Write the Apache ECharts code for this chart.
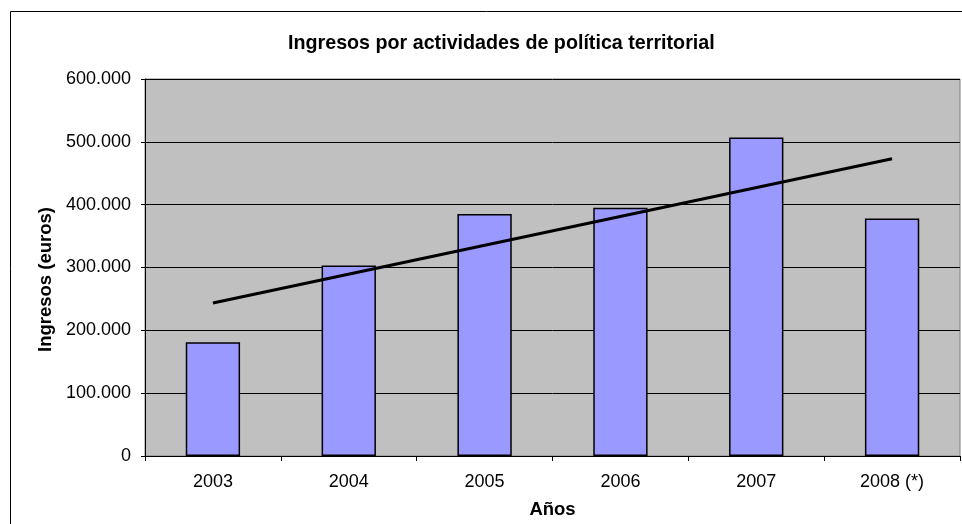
<!DOCTYPE html>
<html>
<head>
<meta charset="utf-8">
<script src="https://cdn.jsdelivr.net/npm/echarts@6/dist/echarts.min.js"></script>
<style>
  html, body { margin: 0; padding: 0; background: #fff; }
  #chart { width: 962px; height: 524px; }
</style>
</head>
<body>
<div id="chart"></div>
<script>
// data
var years = ['2003', '2004', '2005', '2006', '2007', '2008 (*)'];
var ingresos = [181000, 303000, 385000, 395000, 507000, 378000];
// linear trend line, value at first and last year
var trendIdx = [0, 5];
var trendValues = [243500, 473000];

var chartDom = document.getElementById('chart');
var myChart = echarts.init(chartDom);
var font = '"Liberation Sans", Arial, sans-serif';

var trendData = trendIdx.map(function (i, k) { return [i, trendValues[k]]; });

var option = {
    backgroundColor: '#fff',
    animation: false,
    textStyle: { fontFamily: font },
    title: {
        text: 'Ingresos por actividades de política territorial',
        left: 283,
        top: 29,
        textStyle: { fontSize: 19.7, fontWeight: 'bold', color: '#000', fontFamily: font }
    },
    graphic: [{
        type: 'rect',
        shape: { x: 10.5, y: 11.5, width: 980, height: 540 },
        style: { fill: 'none', stroke: '#000', lineWidth: 1 },
        silent: true
    }],
    grid: {
        left: 145,
        right: 2,
        top: 79,
        bottom: 68,
        show: true,
        backgroundColor: '#C0C0C0',
        borderColor: '#808080',
        borderWidth: 1
    },
    xAxis: {
        type: 'category',
        data: years,
        name: 'Años',
        nameLocation: 'middle',
        nameGap: 44,
        nameTextStyle: { fontSize: 18.5, fontWeight: 'bold', color: '#000', fontFamily: font },
        axisLine: { lineStyle: { color: '#000', width: 1 } },
        axisTick: { show: true, length: 5, lineStyle: { color: '#000' } },
        axisLabel: { fontSize: 18, color: '#000', margin: 17, fontFamily: font },
        splitLine: { show: false }
    },
    yAxis: {
        type: 'value',
        min: 0,
        max: 600000,
        interval: 100000,
        name: 'Ingresos (euros)',
        nameLocation: 'middle',
        nameGap: 88,
        nameTextStyle: {
            fontSize: 18.5, fontWeight: 'bold', color: '#000', fontFamily: font,
            padding: [0, 24, 0, 0]
        },
        axisLine: { show: true, lineStyle: { color: '#000', width: 1 } },
        axisTick: { show: true, length: 4, lineStyle: { color: '#000' } },
        axisLabel: {
            fontSize: 18,
            color: '#000',
            margin: 14,
            fontFamily: font,
            formatter: function (v) {
                return String(v).replace(/\B(?=(\d{3})+(?!\d))/g, '.');
            }
        },
        splitLine: { show: true, lineStyle: { color: '#000', width: 1 } }
    },
    series: [
        {
            name: 'Ingresos',
            type: 'bar',
            barWidth: '40%',
            data: ingresos,
            itemStyle: { color: '#9999FF', borderColor: '#000', borderWidth: 1.5 }
        },
        {
            name: 'Tendencia',
            type: 'line',
            data: trendData,
            symbol: 'none',
            lineStyle: { color: '#000', width: 3 },
            z: 5
        }
    ]
};

option && myChart.setOption(option);
</script>
</body>
</html>
